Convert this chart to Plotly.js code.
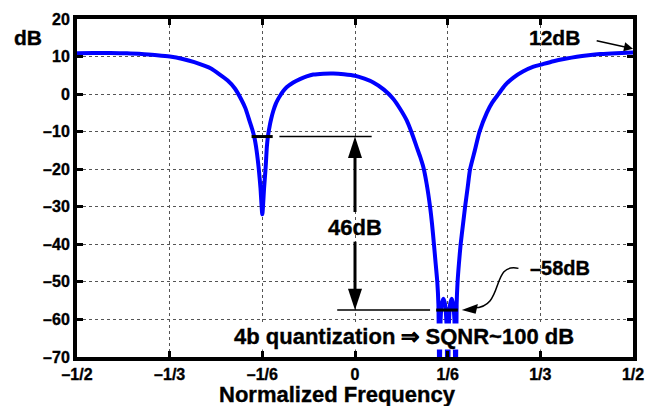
<!DOCTYPE html>
<html>
<head>
<meta charset="utf-8">
<script src="https://cdn.plot.ly/plotly-3.0.1.min.js"></script>
<style>
html,body{margin:0;padding:0;background:#fff;}
#chart{width:660px;height:406px;}
#chart svg text{stroke:#000;stroke-width:0.35px;}
</style>
</head>
<body>
<div id="chart"></div>
<script>
// Normalized frequency (cycles/sample) and magnitude response (dB)
const freq = [
 -0.5, -0.47, -0.44, -0.41, -0.379, -0.356, -0.333, -0.31, -0.289, -0.27,
 -0.259, -0.245, -0.229, -0.216, -0.205, -0.197, -0.19, -0.185, -0.181, -0.177,
 -0.173, -0.17, -0.1667, -0.1635, -0.1607, -0.1585, -0.1566, -0.1535, -0.1506, -0.147,
 -0.1425, -0.1386, -0.135, -0.129, -0.123, -0.111, -0.099, -0.087, -0.075, -0.057,
 -0.039, -0.02, 0, 0.017, 0.033, 0.052, 0.069, 0.081, 0.093, 0.102,
 0.111, 0.117, 0.123, 0.129, 0.135, 0.1385, 0.142, 0.145, 0.148, 0.150,
 0.152, 0.154, 0.156, 0.159, 0.162, 0.1645, 0.1667, 0.169, 0.171, 0.174,
 0.1765, 0.1788, 0.181, 0.1828, 0.1845, 0.187, 0.190, 0.194, 0.198, 0.2025,
 0.207, 0.2155, 0.224, 0.237, 0.247, 0.258, 0.27, 0.285, 0.302, 0.321,
 0.338, 0.357, 0.378, 0.399, 0.42, 0.441, 0.47, 0.5
];
const magDb = [
 10.9, 10.95, 10.95, 10.85, 10.6, 10.35, 10.0, 9.35, 8.5, 7.5,
 6.8, 5.4, 3.6, 1.5, -1.3, -3.8, -7.0, -9.3, -11.5, -15,
 -20, -25, -32, -25, -19.5, -14, -11.2, -8.5, -6.5, -4.5,
 -2.6, -1.4, -0.5, 0.8, 1.8, 3.1, 4.0, 4.7, 5.2, 5.45,
 5.5, 5.3, 4.9, 4.1, 3.1, 1.2, -1.3, -3.9, -7, -10.3,
 -14.1, -16.6, -19.5, -24, -30, -34.5, -40, -45, -50, -56,
 -85, -60, -56, -54.5, -56, -61, -85, -61, -56, -54.5,
 -56, -60, -85, -56, -50, -45, -40, -35, -30, -25,
 -20, -15, -10, -5, -2.2, 0, 2.4, 4.4, 6.0, 7.3,
 8.0, 8.75, 9.4, 9.95, 10.35, 10.65, 10.9, 11.05
];
const xTickVals = [-1/2, -1/3, -1/6, 0, 1/6, 1/3, 1/2];
const xTickText = ['\u20131/2', '\u20131/3', '\u20131/6', '0', '1/6', '1/3', '1/2'];
const yTickVals = [-70, -60, -50, -40, -30, -20, -10, 0, 10, 20];
const yTickText = ['\u201370', '\u201360', '\u201350', '\u201340', '\u201330', '\u201320', '\u201310', '0', '10', '20'];

// annotation levels
const notchLevel = -11.3;   // level of left notch marker
const floorLevel = -57.5;   // -58 dB marker level
const labelGain = '46dB';
const labelFloor = '\u201358dB';
const labelEdge = '12dB';
const labelNote = '4b quantization \u21d2 SQNR~100 dB';
const labelX = 'Normalized Frequency';
const labelY = 'dB';

const FONT = 'Liberation Sans, Arial, sans-serif';
const bold = (s) => ({family: FONT, size: s, color: '#000', weight: 'bold'});

const trace = {
  x: freq, y: magDb, type: 'scatter', mode: 'lines',
  line: {color: '#0000ff', width: 4, shape: 'spline', smoothing: 0.6}, hoverinfo: 'skip'
};

const axisCommon = {
  ticks: 'inside', ticklen: 6, tickwidth: 3, tickcolor: '#000',
  showline: true, linewidth: 4, linecolor: '#000', mirror: 'ticks',
  showgrid: true, gridcolor: '#555', griddash: 'dot', gridwidth: 1,
  zeroline: false, tickfont: bold(16), tickmode: 'array'
};

const hx = 0.0126; // half width of arrowheads (x units)
const shapes = [
  // left notch marker + thin reference line
  {type:'line', xref:'x', yref:'y', x0:-0.186, x1:-0.148, y0:notchLevel, y1:notchLevel, line:{color:'#000', width:3}},
  {type:'line', xref:'x', yref:'y', x0:-0.136, x1:0.030, y0:notchLevel, y1:notchLevel, line:{color:'#000', width:1.5}},
  // -58 dB marker + thin reference line
  {type:'line', xref:'x', yref:'y', x0:-0.032, x1:0.135, y0:floorLevel, y1:floorLevel, line:{color:'#000', width:1.5}},
  {type:'line', xref:'x', yref:'y', x0:0.146, x1:0.185, y0:floorLevel, y1:floorLevel, line:{color:'#000', width:3}},
  // vertical double arrow
  {type:'line', xref:'x', yref:'y', x0:0, x1:0, y0:-16.5, y1:-31.4, line:{color:'#000', width:3}},
  {type:'line', xref:'x', yref:'y', x0:0, x1:0, y0:-39.3, y1:-52.3, line:{color:'#000', width:3}},
  {type:'path', xref:'x', yref:'y', path:`M 0,${notchLevel} L ${hx},-17 L ${-hx},-17 Z`, fillcolor:'#000', line:{color:'#000', width:0}},
  {type:'path', xref:'x', yref:'y', path:`M 0,${floorLevel} L ${hx},-51.8 L ${-hx},-51.8 Z`, fillcolor:'#000', line:{color:'#000', width:0}},
  // curved arrow to -58 dB marker
  {type:'path', xref:'x', yref:'y', path:'M 0.294,-46.4 C 0.243,-44.7 0.270,-56.9 0.214,-56.9', line:{color:'#000', width:1.5}},
  {type:'path', xref:'x', yref:'y', path:'M 0.192,-57.5 L 0.221,-55.9 L 0.217,-58.5 Z', fillcolor:'#000', line:{color:'#000', width:0}}
];

const annotations = [
  {xref:'paper', yref:'paper', x:-0.088, y:0.944, text:labelY, showarrow:false, font:bold(21), xanchor:'center', yanchor:'middle'},
  {xref:'paper', yref:'paper', x:0.468, y:-0.112, text:labelX, showarrow:false, font:bold(22), xanchor:'center', yanchor:'middle'},
  {xref:'x', yref:'y', x:0.358, y:15.1, text:labelEdge, showarrow:false, font:bold(21), xanchor:'center', yanchor:'middle'},
  {xref:'x', yref:'y', x:0.5, y:12.1, ax:0.432, ay:14.3, axref:'x', ayref:'y', text:'', showarrow:true,
   arrowhead:2, arrowsize:1.2, arrowwidth:1.5, arrowcolor:'#000'},
  {xref:'x', yref:'y', x:0, y:-35.4, text:labelGain, showarrow:false, font:bold(22), xanchor:'center', yanchor:'middle'},
  {xref:'x', yref:'y', x:0.369, y:-46.3, text:labelFloor, showarrow:false, font:bold(20), xanchor:'center', yanchor:'middle'},
  {xref:'x', yref:'y', x:0.088, y:-64.6, text:labelNote, showarrow:false, font:bold(22), xanchor:'center', yanchor:'middle', bgcolor:'#fff', borderpad:0}
];

const layout = {
  width: 660, height: 406,
  margin: {l: 77, r: 27, t: 19, b: 49},
  paper_bgcolor: '#fff', plot_bgcolor: '#fff',
  showlegend: false,
  xaxis: Object.assign({}, axisCommon, {
    range: [-0.5, 0.5], tickvals: xTickVals, ticktext: xTickText
  }),
  yaxis: Object.assign({}, axisCommon, {
    range: [-70, 20], tickvals: yTickVals, ticktext: yTickText
  }),
  shapes: shapes,
  annotations: annotations
};

Plotly.newPlot('chart', [trace], layout, {staticPlot: true, displayModeBar: false});
</script>
</body>
</html>
